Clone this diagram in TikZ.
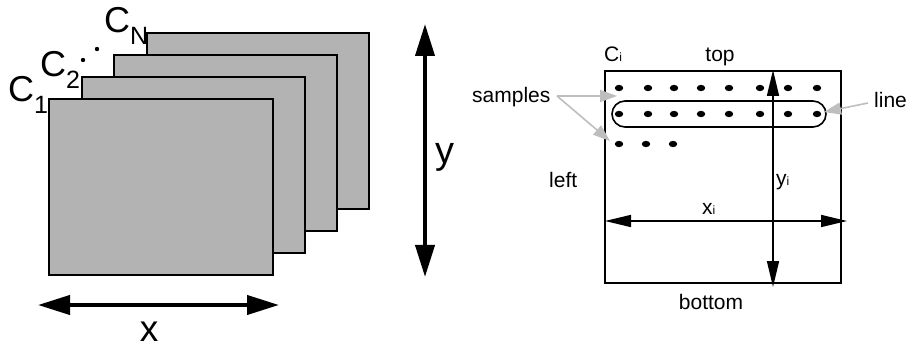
\documentclass[tikz,border=0pt]{standalone}
\usepackage{fontspec}
\setmainfont{Liberation Sans}
\usetikzlibrary{arrows.meta}
\definecolor{plate}{RGB}{179,179,179}
\definecolor{pointer}{RGB}{190,190,190}
\tikzset{
  plane/.style={draw=black, fill=plate, line width=2pt},
  bigarrow/.style={line width=4pt, {Triangle[length=32pt,width=19pt]}-{Triangle[length=32pt,width=19pt]}},
  axisarrow/.style={line width=1.6pt, {Triangle[length=26pt,width=12pt]}-{Triangle[length=26pt,width=12pt]}},
  pointarrow/.style={draw=pointer, line width=1.6pt, -{Triangle[length=17pt,width=12pt]}},
  biglabel/.style={inner sep=0pt, font=\fontsize{36}{36}\selectfont},
  smalllabel/.style={inner sep=0pt, font=\fontsize{21}{21}\selectfont},
  sample/.style={fill=black},
  frame/.style={draw=black, line width=2.2pt},
  lineloop/.style={draw=black, line width=1.6pt, rounded corners=13pt}
}
\newcommand{\bigsub}[2]{#1\raisebox{-12pt}{\fontsize{25}{25}\selectfont #2}}
\newcommand{\smallsub}[2]{#1{\fontsize{12}{12}\selectfont #2}}
\begin{document}
\begin{tikzpicture}[x=1pt,y=-1pt]
\useasboundingbox (0,0) rectangle (912,347);

% stack of image planes, back to front
\foreach \k in {3,2,1,0}{
  \path[plane] ({49+32.5*\k},{99-22*\k}) rectangle ({273+32*\k},{275-22*\k});
}

% plane labels
\node[biglabel, anchor=base west] (c1) at (8,102) {\bigsub{C}{1}};
\node[biglabel, anchor=base west] (c2) at (40,77) {\bigsub{C}{2}};
\node[biglabel, anchor=base west] (cn) at (104,33) {\bigsub{C}{N}};
\fill (83,60) circle (2.2pt);
\fill (97,49) circle (2.2pt);

% image size arrows
\coordinate (xl) at (38,305);
\coordinate (xr) at (279,305);
\draw[bigarrow] (xl) -- (xr);
\node[inner sep=0pt, anchor=base, font=\fontsize{37}{37}\selectfont] (xlab) at (149,341) {x};

\coordinate (yt) at (425,24);
\coordinate (yb) at (425,277);
\draw[bigarrow] (yt) -- (yb);
\node[inner sep=0pt, anchor=base west, font=\fontsize{38}{38}\selectfont] (ylab) at (435,164) {y};

% single image plane with sampling grid
\draw[frame] (605,71) rectangle (841,283);
\node[smalllabel, anchor=base west] (ci) at (604,62) {\smallsub{C}{i}};
\node[smalllabel, anchor=base] (top) at (720,62) {top};
\node[smalllabel, anchor=base] (bottom) at (711,309) {bottom};
\node[smalllabel, anchor=base west] (left) at (549,188) {left};

% samples
\foreach \x in {619,648,674,701,729,760,788,817}{
  \fill[sample] (\x,88) ellipse (4.2pt and 3.2pt);
  \fill[sample] (\x,114) ellipse (4.2pt and 3.2pt);
}
\foreach \x in {619,646,673}{
  \fill[sample] (\x,144) ellipse (4.2pt and 3.2pt);
}

% one scan line
\draw[lineloop] (612,101) rectangle (826,127);

% coordinate axes
\coordinate (yitop) at (773,70);
\coordinate (yibot) at (773,287);
\draw[axisarrow] (yitop) -- (yibot);
\node[smalllabel, anchor=base west] (yi) at (776,186) {\smallsub{y}{i}};

\coordinate (xileft) at (605,221);
\coordinate (xiright) at (847,221);
\draw[axisarrow] (xileft) -- (xiright);
\node[smalllabel, anchor=base west] (xi) at (702,215) {\smallsub{x}{i}};

% pointers
\node[smalllabel, anchor=base west] (samples) at (472,103) {samples};
\coordinate (sfrom) at (557,96);
\coordinate (s1) at (617,96);
\coordinate (s2) at (610,141);
\draw[pointarrow] (sfrom) -- (s1);
\draw[pointarrow] (sfrom) -- (s2);

\node[smalllabel, anchor=base west] (line) at (874,108) {line};
\coordinate (lfrom) at (868,103);
\coordinate (lto) at (824,112);
\draw[pointarrow] (lfrom) -- (lto);
\end{tikzpicture}
\end{document}
